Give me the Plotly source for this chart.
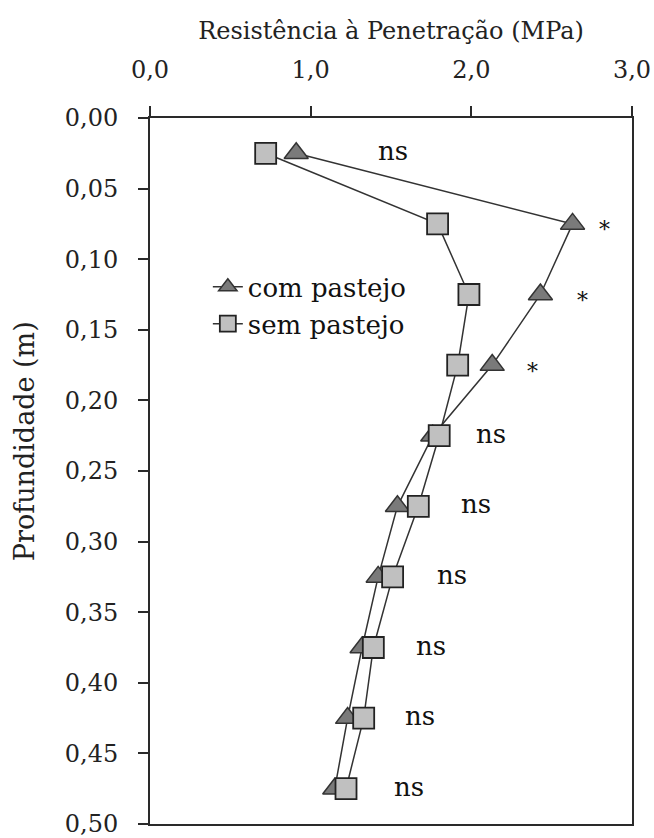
import plotly.graph_objects as go

# Data
depth = [0.025, 0.075, 0.125, 0.175, 0.225, 0.275, 0.325, 0.375, 0.425, 0.475]
com_pastejo = [0.91, 2.63, 2.43, 2.13, 1.76, 1.54, 1.42, 1.32, 1.23, 1.15]
sem_pastejo = [0.72, 1.79, 1.985, 1.915, 1.80, 1.67, 1.51, 1.39, 1.33, 1.22]
sig_labels = ["ns", "*", "*", "*", "ns", "ns", "ns", "ns", "ns", "ns"]
label_x = [1.51, 2.83, 2.69, 2.38, 2.12, 2.03, 1.88, 1.75, 1.68, 1.61]

x_ticks = [0, 1, 2, 3]
x_ticktext = ["0,0", "1,0", "2,0", "3,0"]
y_ticks = [0.0, 0.05, 0.10, 0.15, 0.20, 0.25, 0.30, 0.35, 0.40, 0.45, 0.50]
y_ticktext = ["0,00", "0,05", "0,10", "0,15", "0,20", "0,25", "0,30", "0,35", "0,40", "0,45", "0,50"]

FONT = "DejaVu Serif"
AX = "#2a2a2a"

fig = go.Figure()
fig.add_trace(go.Scatter(
    x=com_pastejo, y=depth, mode="lines+markers", name="com pastejo",
    line=dict(color="#333333", width=1.5),
    marker=dict(symbol="triangle-up", size=21, color="#7a7a7a",
                line=dict(color="#333333", width=1.5)),
))
fig.add_trace(go.Scatter(
    x=sem_pastejo, y=depth, mode="lines+markers", name="sem pastejo",
    line=dict(color="#333333", width=1.5),
    marker=dict(symbol="square", size=21, color="#c0c0c0",
                line=dict(color="#222222", width=1.8)),
))

for lx, d, t in zip(label_x, depth, sig_labels):
    fig.add_annotation(x=lx, y=d, text=t, showarrow=False,
                       font=dict(family=FONT, size=26 if t == "ns" else 22, color="#111111"),
                       yshift=-6 if t == "*" else 2)

# y-axis title (placed as in the reference, slightly above plot centre)
fig.add_annotation(xref="paper", yref="paper", x=-0.259, y=0.5425,
                   xanchor="center", yanchor="middle",
                   text="Profundidade (m)", textangle=-90, showarrow=False,
                   font=dict(family=FONT, size=27, color="#222222"))

fig.update_layout(
    width=654, height=838,
    margin=dict(l=150, r=22, t=118, b=14),
    paper_bgcolor="white", plot_bgcolor="white",
    font=dict(family=FONT, size=24, color="#222222"),
    showlegend=True,
    legend=dict(x=0.12, y=0.794, xanchor="left", yanchor="top",
                font=dict(family=FONT, size=26, color="#111111"),
                bgcolor="rgba(0,0,0,0)", tracegroupgap=0),
)
fig.update_xaxes(
    side="top", range=[0, 3], tickvals=x_ticks, ticktext=x_ticktext,
    showgrid=False, zeroline=False, showline=True, linecolor=AX, linewidth=2,
    mirror=True, ticks="outside", ticklen=10, tickwidth=1.5, tickcolor=AX,
    ticklabelstandoff=18, automargin=False, ticklabeloverflow="allow",
    title=dict(text="Resistência à Penetração (MPa)", font=dict(size=24), standoff=10),
)
fig.update_yaxes(
    range=[0.5, 0], tickvals=y_ticks, ticktext=y_ticktext,
    showgrid=False, zeroline=False, showline=True, linecolor=AX, linewidth=2,
    mirror=True, ticks="outside", ticklen=10, tickwidth=1.5, tickcolor=AX,
    ticklabelstandoff=15, automargin=False, ticklabeloverflow="allow",
)

# remove the default 8px page margin so the 654x838 figure fills the window exactly
fig.write_html("out.html", config={"displayModeBar": False},
               post_script="document.body.style.margin='0';")
